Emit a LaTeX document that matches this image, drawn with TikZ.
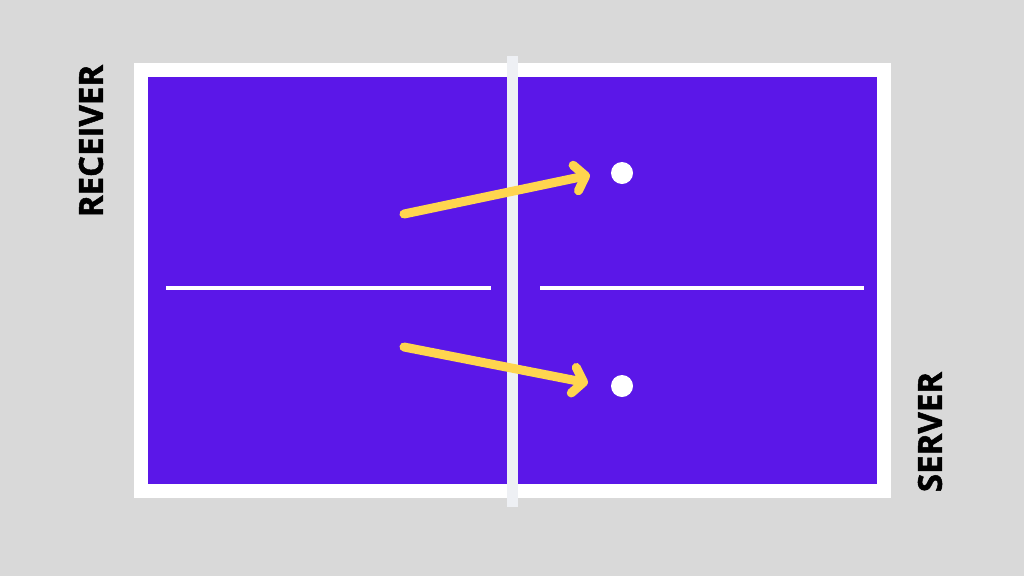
\documentclass[tikz,border=0pt]{standalone}
\usepackage{fontspec}
\setmainfont{Open Sans}[BoldFeatures={FakeBold=1.5}]
\usetikzlibrary{arrows.meta}
\definecolor{bggray}{HTML}{D9D9D9}
\definecolor{tablepurple}{HTML}{5B17E8}
\definecolor{netgray}{HTML}{EEF0F4}
\definecolor{serveyellow}{HTML}{FFD54F}
\begin{document}
\begin{tikzpicture}[x=1pt, y=-1pt,
  ball/.style={draw=none, circle, fill=white, minimum size=22pt, inner sep=0pt},
  serve/.style={serveyellow, line width=9pt, line cap=round,
    -{Straight Barb[length=10pt, width=26pt, line cap=round, line join=round]}},
  side/.style={font=\fontsize{33}{33}\selectfont\bfseries, inner sep=0pt, rotate=90}]
\useasboundingbox (0,0) rectangle (1024,576);
\fill[bggray] (0,0) rectangle (1024,576);
% table
\fill[white] (134,63) rectangle (891,498);
\fill[tablepurple] (148,77) rectangle (877,484);
\fill[white] (166,286) rectangle (491,290);
\fill[white] (540,286) rectangle (864,290);
% net
\fill[netgray] (507,56) rectangle (518,507);
% balls
\node[ball] (B1) at (622,173) {};
\node[ball] (B2) at (622,386) {};
% serves
\coordinate (S1) at (404,214);
\coordinate (S2) at (404,347);
\coordinate (T1) at (590,175);
\coordinate (T2) at (588,383);
\draw[serve] (S1) -- (T1);
\draw[serve] (S2) -- (T2);
% labels
\node[side] (R) at (91,141) {RECEIVER};
\node[side] (S) at (930,432) {SERVER};
\end{tikzpicture}
\end{document}
